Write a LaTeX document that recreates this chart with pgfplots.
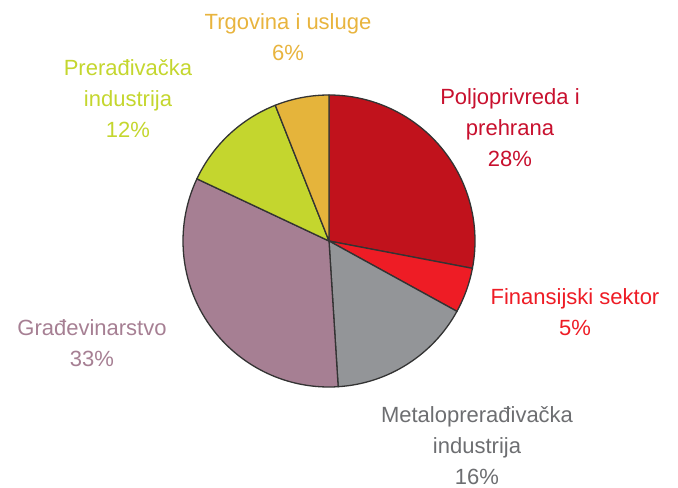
\documentclass[border=0pt]{standalone}
\usepackage{pgfplots}
\pgfplotsset{compat=1.18}
\usepackage{fontspec}
\setmainfont{Liberation Sans}
\definecolor{cPol}{HTML}{C1121C}
\definecolor{cFin}{HTML}{EE1C25}
\definecolor{cMet}{HTML}{939598}
\definecolor{cGra}{HTML}{A67F93}
\definecolor{cPre}{HTML}{C4D62E}
\definecolor{cTrg}{HTML}{E5B43B}
\definecolor{tPol}{HTML}{C8102E}
\definecolor{tMet}{HTML}{6D6E71}
\definecolor{tTrg}{HTML}{E8B43E}
\begin{document}
\begin{tikzpicture}
\begin{axis}[scale only axis, width=678bp, height=488bp,
  xmin=0, xmax=678, ymin=0, ymax=488, hide axis, clip=false]
\def\cx{329}\def\cy{247}
\gdef\acc{90}
\foreach \v/\c in {28/cPol,5/cFin,16/cMet,33/cGra,12/cPre,6/cTrg}{
  \pgfmathsetmacro\s{\acc}
  \pgfmathsetmacro\e{\acc-3.6*\v}
  \xdef\acc{\e}
  \edef\temp{\noexpand\filldraw[fill=\c, draw=black!80, line width=1.3bp, line join=round]
    (axis cs:\cx,\cy) -- ++(\s:146bp) arc[start angle=\s, end angle=\e, radius=146bp] -- cycle;}
  \temp
}
\tikzset{lbl/.style={align=center, anchor=center, font=\fontsize{22bp}{31bp}\selectfont, inner sep=0pt}}
\node[lbl, text=tTrg] at (axis cs:288,451) {Trgovina i usluge\\6\%};
\node[lbl, text=cPre] at (axis cs:128,389) {Prerađivačka\\industrija\\12\%};
\node[lbl, text=tPol] at (axis cs:510,360) {Poljoprivreda i\\prehrana\\28\%};
\node[lbl, text=cFin] at (axis cs:575,176) {Finansijski sektor\\5\%};
\node[lbl, text=cGra] at (axis cs:92,145) {Građevinarstvo\\33\%};
\node[lbl, text=tMet] at (axis cs:477,42) {Metaloprerađivačka\\industrija\\16\%};
\end{axis}
\pgfresetboundingbox
\path (current axis.south west) rectangle (current axis.north east);
\end{tikzpicture}
\end{document}
